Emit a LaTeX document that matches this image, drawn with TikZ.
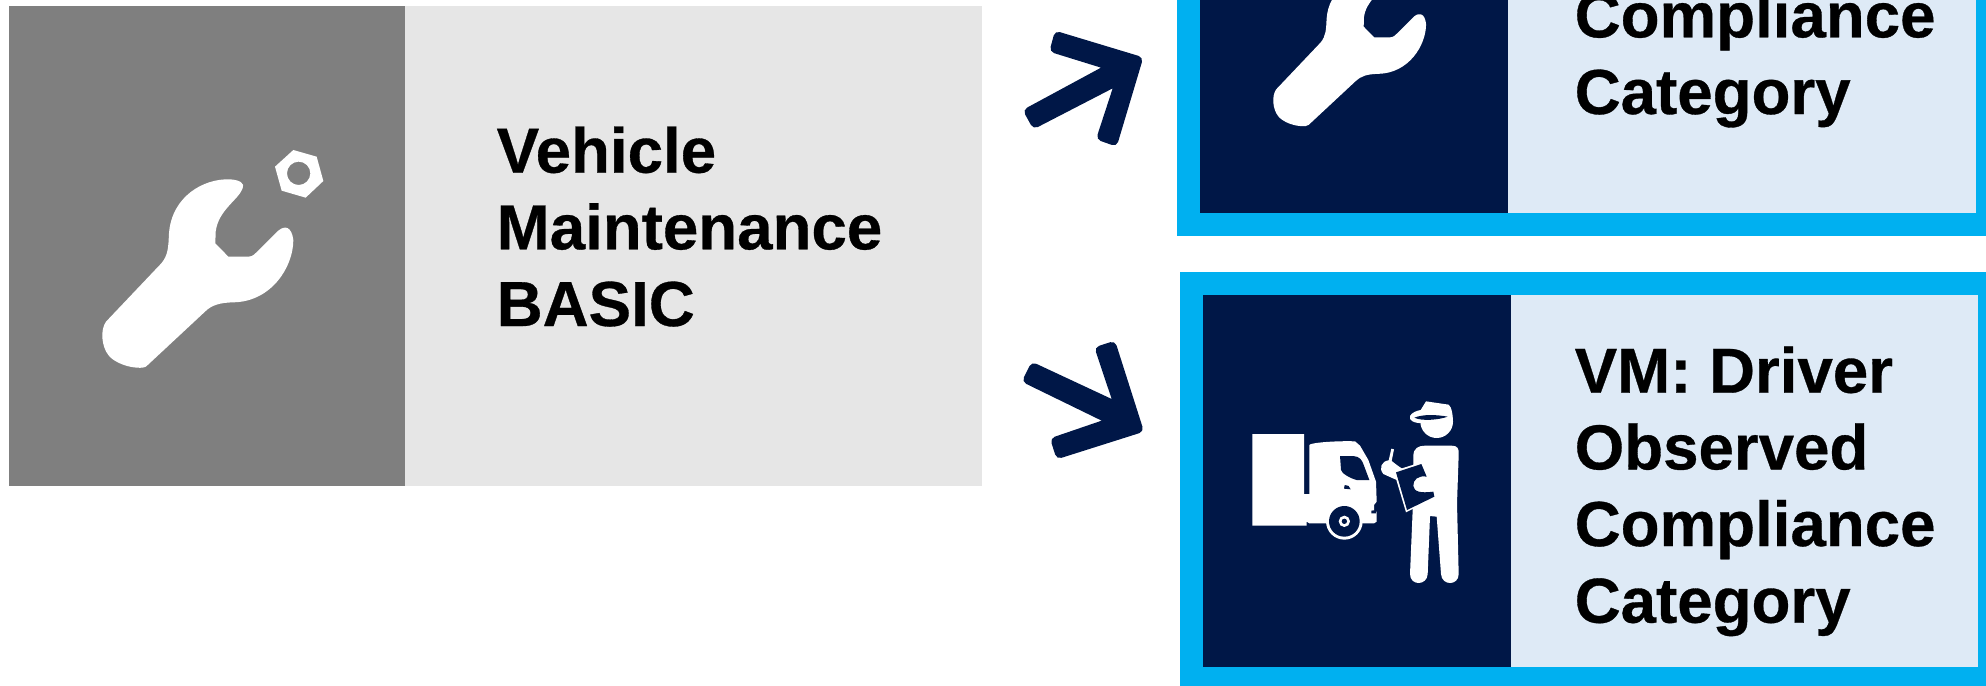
\documentclass[tikz,border=0pt]{standalone}
\usepackage{fontspec}
\setmainfont{Liberation Sans}[BoldFeatures={FakeBold=0.5}]
\usepackage{tikz}
\definecolor{basicgrey}{HTML}{7F7F7F}
\definecolor{basiclight}{HTML}{E6E6E6}
\definecolor{cardnavy}{HTML}{001747}
\definecolor{cardcyan}{HTML}{00B0F0}
\definecolor{cardlight}{HTML}{DEEAF6}
\tikzset{
    cardtext/.style={anchor=base west, inner sep=0, align=left, text=black,
        font=\fontsize{18.1}{21.8}\selectfont\bfseries},
    hexnut/.style={fill=white, even odd rule}
}

\begin{document}
\begin{tikzpicture}[x=0.01cm, y=-0.01cm]
    \def\topx{1177}; % top card outer x coordinate
    \def\topy{-30}; % top card outer y coordinate
    \def\botx{1180}; % bottom card outer x coordinate
    \def\boty{272}; % bottom card outer y coordinate

    \def\navycol{cardnavy}; % icon panel color
    \def\cyancol{cardcyan}; % card frame color
    \def\paleecol{cardlight}; % text panel color

    % wrench outline, in zoomed units
    \def\wrenchpath{(318,965) -- (484,790) .. controls (505,765) and (505,740) .. (507,700)
        .. controls (515,590) and (610,535) .. (690,538)
        .. controls (720,540) and (735,550) .. (728,565)
        .. controls (715,600) and (655,630) .. (647,695)
        -- (646,730) -- (685,770) -- (745,770) .. controls (760,770) and (765,760) .. (775,752)
        -- (835,692) .. controls (855,675) and (875,680) .. (880,720)
        .. controls (880,800) and (815,905) .. (700,907)
        .. controls (660,908) and (635,915) .. (615,935)
        -- (440,1098) .. controls (435,1103) and (425,1104) .. (410,1103)
        .. controls (370,1100) and (335,1080) .. (325,1065)
        .. controls (305,1040) and (300,990) .. (318,965) -- cycle};

    \clip (0,0) rectangle (1986,685);

    % basic panel %%%%%%%%%%%%%%%%%%%%%%%%%%%%%%%%%%%%%%%%%%%%%%%%%%%%%%%%%%%%%%%%%%%%%%%%%%%%%%%%%
    \fill[basicgrey] (9,6) rectangle (405,486);
    \fill[basiclight] (405,6) rectangle (982,486);
    \begin{scope}[scale=1/3]
        \fill[white] \wrenchpath;
        \fill[hexnut] (880,450) -- (950,470) -- (970,543) -- (917,593) -- (845,572) -- (825,500) -- cycle
            (896,520) circle (35);
    \end{scope}
    \node[cardtext] (basiclabel) at (496,326) {Vehicle\\Maintenance\\BASIC};

    % top card %%%%%%%%%%%%%%%%%%%%%%%%%%%%%%%%%%%%%%%%%%%%%%%%%%%%%%%%%%%%%%%%%%%%%%%%%%%%%%%%%%%%
    \fill[\cyancol] (\topx,\topy) rectangle (2000,236);
    \fill[\navycol] (\topx+23,\topy) rectangle (1508,213.3);
    \fill[\paleecol] (1508,\topy) rectangle (1975.7,213.3);
    \begin{scope}[shift={(1191.4,-168)}, scale=0.8/3]
        \fill[white] \wrenchpath;
    \end{scope}
    \node[cardtext] (toplabel) at (1574,114) {Compliance\\Category};

    % bottom card %%%%%%%%%%%%%%%%%%%%%%%%%%%%%%%%%%%%%%%%%%%%%%%%%%%%%%%%%%%%%%%%%%%%%%%%%%%%%%%%%
    \fill[\cyancol] (\botx,\boty) rectangle (2000,700);
    \fill[\navycol] (\botx+23,\boty+23) rectangle (1511,666.7);
    \fill[\paleecol] (1511,\boty+23) rectangle (1978,666.7);
    \node[cardtext] (botlabel) at (1574,622.7) {VM: Driver\\Observed\\Compliance\\Category};

    % truck and driver %%%%%%%%%%%%%%%%%%%%%%%%%%%%%%%%%%%%%%%%%%%%%%%%%%%%%%%%%%%%%%%%%%%%%%%%%%%%
    \begin{scope}[shift={(1170,380)}, scale=1/3]
        % truck
        \fill[white] (247,162) -- (402,162) -- (402,342) -- (418,342) -- (418,195)
            .. controls (420,188) and (500,182) .. (555,184) -- (570,197) -- (595,240) -- (618,305)
            -- (620,365) -- (612,375) -- (612,390) -- (620,396) -- (620,425) -- (612,430)
            -- (418,430) -- (410,425) -- (410,437) -- (247,437) -- cycle;
        \fill[\navycol] (510,228) -- (550,228) .. controls (570,230) and (575,240) .. (580,252)
            -- (598,300) -- (560,300) .. controls (540,295) and (515,280) .. (513,270) -- cycle;
        \fill[\navycol] (522,326) -- (524,315) .. controls (533,313) and (540,320) .. (542,328) -- cycle;
        \fill[\navycol] (604,392) -- (618,390) -- (618,400) -- (604,400) -- cycle;
        \fill[white] (523,424) circle (55);
        \fill[\navycol] (523,424) circle (46);
        \fill[white] (523,424) circle (17);
        \fill[\navycol] (523,424) circle (8);
        % driver
        \fill[white] (800,125) circle (49);
        \fill[white] (752,90) -- (768,64) -- (836,74) .. controls (845,80) and (850,110) .. (848,130)
            -- (760,130) .. controls (730,130) and (715,120) .. (720,108)
            .. controls (725,98) and (740,92) .. (752,90) -- cycle;
        \fill[\navycol] (733,113) .. controls (760,102) and (800,104) .. (833,110)
            .. controls (805,120) and (755,124) .. (733,113) -- cycle;
        \fill[white] (730,228) .. controls (730,205) and (745,197) .. (765,197) -- (845,197)
            .. controls (862,197) and (868,205) .. (866,225) -- (861,370) -- (866,582)
            .. controls (866,618) and (815,618) .. (813,582) -- (800,410) -- (780,408) -- (773,582)
            .. controls (771,618) and (720,618) .. (720,582) -- (728,390) -- cycle;
        % arm and pen
        \fill[white] (664,206) -- (672,208) -- (665,243) .. controls (680,255) and (690,262) .. (700,268)
            -- (680,300) -- (640,282) .. controls (625,265) and (635,243) .. (656,241) -- cycle;
        % clipboard
        \fill[white] (671,273) -- (759,245) -- (798,352) -- (708,397) -- cycle;
        \fill[\navycol] (678,277) -- (754,252) -- (770,290) .. controls (745,285) and (728,300) .. (730,318)
            .. controls (732,335) and (750,340) .. (790,335) -- (793,350) -- (711,390) -- cycle;
    \end{scope}

    % arrows %%%%%%%%%%%%%%%%%%%%%%%%%%%%%%%%%%%%%%%%%%%%%%%%%%%%%%%%%%%%%%%%%%%%%%%%%%%%%%%%%%%%%%
    \begin{scope}[shift={(1000,0)}, scale=1/3]
        \fill[\navycol, rounded corners=0.5mm] (165,92) -- (430,172) -- (350,440) -- (288,418)
            [sharp corners] -- (338,265) [rounded corners=0.5mm] -- (100,388) -- (68,330)
            [sharp corners] -- (303,203) [rounded corners=0.5mm] -- (148,155) -- cycle;
        \fill[\navycol, rounded corners=0.5mm] (65,1145) -- (95,1085)
            [sharp corners] -- (335,1197) [rounded corners=0.5mm] -- (283,1042)
            -- (345,1022) -- (432,1295) -- (170,1378) -- (150,1315)
            [sharp corners] -- (305,1262) [rounded corners=0.5mm] -- cycle;
    \end{scope}
\end{tikzpicture}
\end{document}
